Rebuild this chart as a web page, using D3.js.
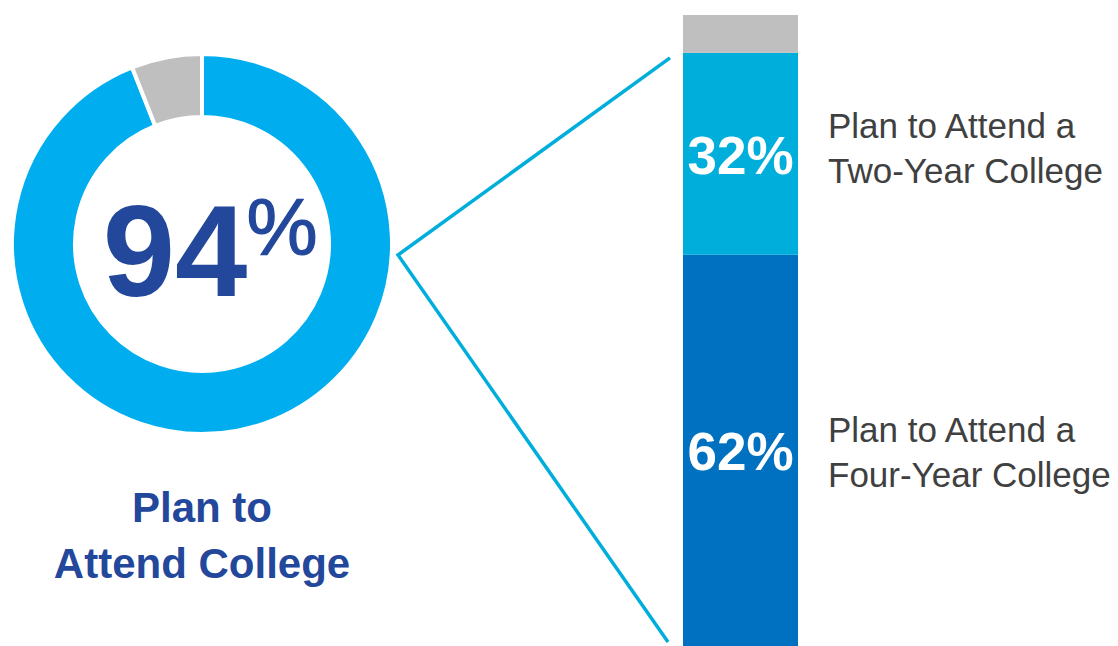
<!DOCTYPE html>
<html><head><meta charset="utf-8">
<script src="https://cdn.jsdelivr.net/npm/d3@7"></script>
<style>html,body{margin:0;padding:0;background:#fff;}svg{display:block;}</style>
</head><body>
<svg id="c" width="1118" height="646"></svg>
<script>
// Data
const donutCategories = ["Plan to Attend College", "Other"];
const donutValues = [94, 6];
const barCategories = ["Plan to Attend a Four-Year College", "Plan to Attend a Two-Year College", "Other"];
const barValues = [62, 32, 6];
const barLabelLines = [["Plan to Attend a", "Four-Year College"], ["Plan to Attend a", "Two-Year College"], []];
const donutColors = ["#00AEEF", "#BFBFBF"];
const barColors = ["#0070C0", "#00AEDB", "#BFBFBF"];

const svg = d3.select("#c");

// Donut
const cx = 202, cy = 244;
const pie = d3.pie().sort(null).value(d => d)(donutValues);
const arc = d3.arc().innerRadius(127).outerRadius(190);
const g = svg.append("g").attr("transform", `translate(${cx},${cy})`);
g.selectAll("path").data(pie).join("path")
  .attr("d", arc).attr("fill", (d, i) => donutColors[i])
  .attr("stroke", "#fff").attr("stroke-width", 4);

g.append("text").attr("text-anchor", "middle")
  .attr("font-family", "Liberation Sans, Arial, sans-serif").attr("fill", "#23479B")
  .attr("x", -27).attr("y", 52).attr("font-size", 130).attr("font-weight", "bold").text(donutValues[0]);
g.append("text").attr("x", 80).attr("y", 11).attr("font-size", 80)
  .attr("font-family", "Liberation Sans, Arial, sans-serif").attr("fill", "#23479B")
  .attr("stroke", "#23479B").attr("stroke-width", 1.2)
  .attr("text-anchor", "middle").text("%");

const title = svg.append("text").attr("text-anchor", "middle")
  .attr("font-family", "Liberation Sans, Arial, sans-serif").attr("font-weight", "bold")
  .attr("font-size", 42).attr("fill", "#23479B");
title.append("tspan").attr("x", cx).attr("y", 522).text("Plan to");
title.append("tspan").attr("x", cx).attr("y", 578).text("Attend College");

// Stacked bar
const y = d3.scaleLinear().domain([0, 100]).range([646, 15]);
const bx = 683, bw = 115;
let acc = 0;
const segs = barValues.map((v, i) => { const s = {v, i, y0: acc, y1: acc + v}; acc += v; return s; });
svg.selectAll("rect.seg").data(segs).join("rect").attr("class", "seg")
  .attr("x", bx).attr("width", bw)
  .attr("y", d => y(d.y1)).attr("height", d => y(d.y0) - y(d.y1))
  .attr("fill", d => barColors[d.i]);

svg.selectAll("text.pct").data(segs.filter(d => d.i < 2)).join("text").attr("class", "pct")
  .attr("x", bx + bw / 2).attr("y", d => (y(d.y0) + y(d.y1)) / 2 + 20)
  .attr("text-anchor", "middle").attr("font-family", "Liberation Sans, Arial, sans-serif")
  .attr("font-weight", "bold").attr("font-size", 53).attr("fill", "#fff")
  .text(d => d.v + "%");

segs.filter(d => d.i < 2).forEach(d => {
  const mid = (y(d.y0) + y(d.y1)) / 2;
  const t = svg.append("text").attr("font-family", "Liberation Sans, Arial, sans-serif")
    .attr("font-size", 35).attr("fill", "#404040");
  const off = d.i === 1 ? -16 : -8;
  barLabelLines[d.i].forEach((ln, k) => {
    t.append("tspan").attr("x", 828).attr("y", mid + off + k * 45).text(ln);
  });
});

// Connector lines
const tip = [398, 255];
svg.append("path")
  .attr("d", d3.line()([[670, y(94) + 5], tip, [668, 642]]))
  .attr("fill", "none").attr("stroke", "#00AEDB").attr("stroke-width", 3.5);
</script>
</body></html>
